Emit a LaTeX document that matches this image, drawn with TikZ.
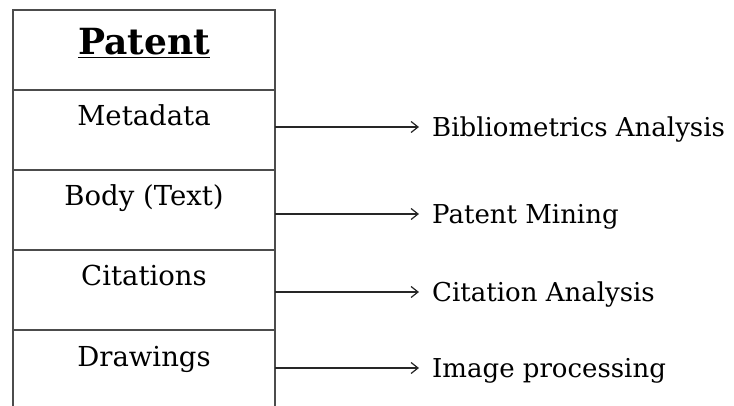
\documentclass[tikz,border=0pt]{standalone}
\usepackage{fontspec}
\setmainfont{DejaVu Serif}
\usetikzlibrary{arrows.meta}

\begin{document}
\begin{tikzpicture}[
  x=1pt, y=-1pt,
  cell/.style={draw=black!70, line width=2pt, minimum width=262pt,
    minimum height=80pt, inner sep=0pt, outer sep=0pt, anchor=north west},
  lbl/.style={anchor=base, inner sep=0pt, font=\fontsize{27.5}{32}\selectfont},
  title/.style={anchor=base, inner sep=0pt, font=\bfseries\fontsize{36}{42}\selectfont},
  use/.style={anchor=west, inner xsep=13pt, inner ysep=0pt, text height=19pt,
    text depth=0pt, font=\fontsize{26}{30}\selectfont},
  arr/.style={draw=black!85, line width=1.2pt,
    -{Straight Barb[length=7pt,width=11pt,line width=1.2pt]}}
]
\useasboundingbox (0,0) rectangle (734,406);
\clip (0,0) rectangle (734,406);

% the stack of cells describing a patent
\node[cell] (c0) at (13,10) {};
\node[cell] (c1) at (c0.south west) {};
\node[cell] (c2) at (c1.south west) {};
\node[cell] (c3) at (c2.south west) {};
\node[cell] (c4) at (c3.south west) {};

\node[title] (ttl) at ([yshift=-45pt]c0.north) {\underline{Patent}};
\node[lbl] (l1) at ([yshift=-36pt]c1.north) {Metadata};
\node[lbl] (l2) at ([yshift=-36pt]c2.north) {Body (Text)};
\node[lbl] (l3) at ([yshift=-36pt]c3.north) {Citations};
\node[lbl] (l4) at ([yshift=-36pt]c4.north) {Drawings};

% analysis methods for each part
\node[use] (t1) at (419,127) {Bibliometrics Analysis};
\node[use] (t2) at (419,214) {Patent Mining};
\node[use] (t3) at (419,292) {Citation Analysis};
\node[use] (t4) at (419,368) {Image processing};

\draw[arr] (c1.east |- t1.west) -- (t1.west);
\draw[arr] (c2.east |- t2.west) -- (t2.west);
\draw[arr] (c3.east |- t3.west) -- (t3.west);
\draw[arr] (c4.east |- t4.west) -- (t4.west);
\end{tikzpicture}
\end{document}
